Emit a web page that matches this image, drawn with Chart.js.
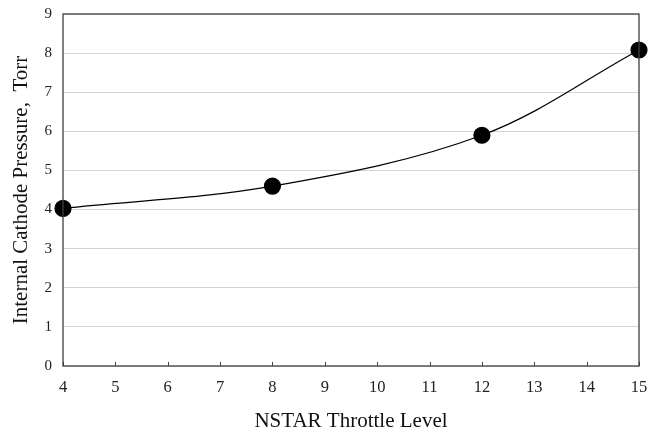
<!DOCTYPE html>
<html>
<head>
<meta charset="utf-8">
<script src="https://cdn.jsdelivr.net/npm/chart.js@4/dist/chart.umd.min.js"></script>
<style>
  html, body { margin: 0; padding: 0; background: #fff; }
  #wrap { width: 651px; height: 438px; }
</style>
</head>
<body>
<div id="wrap"><canvas id="chart" width="651" height="438"></canvas></div>
<script>
// data
const throttleLevels = [4, 8, 12, 15];
const cathodePressure = [4.03, 4.6, 5.9, 8.08];
const xTicks = [4, 5, 6, 7, 8, 9, 10, 11, 12, 13, 14, 15];
const yTicks = [0, 1, 2, 3, 4, 5, 6, 7, 8, 9];

const serif = "'Liberation Serif', 'Times New Roman', serif";

// frame round the plot + small inward ticks on the x axis
const framePlugin = {
  id: 'frame',
  afterDatasetsDraw(c) {
    const { ctx, chartArea: a, scales } = c;
    ctx.save();
    ctx.strokeStyle = '#404040';
    ctx.lineWidth = 1.3;
    ctx.strokeRect(a.left, a.top, a.right - a.left, a.bottom - a.top);
    ctx.beginPath();
    xTicks.forEach((t) => {
      const x = Math.round(scales.x.getPixelForValue(t)) + 0.5;
      ctx.moveTo(x, a.bottom);
      ctx.lineTo(x, a.bottom - 4);
    });
    ctx.lineWidth = 1;
    ctx.stroke();
    ctx.restore();
  },
};

const chart = document.getElementById('chart').getContext('2d');

new Chart(chart, {
  type: 'line',
  data: {
    datasets: [
      {
        data: throttleLevels.map((x, i) => ({ x: x, y: cathodePressure[i] })),
        borderColor: '#000',
        borderWidth: 1.2,
        backgroundColor: '#000',
        pointRadius: 8,
        pointHoverRadius: 8,
        tension: 0.35,
        fill: false,
        clip: false,
      },
    ],
  },
  options: {
    responsive: false,
    animation: false,
    layout: { padding: { left: 5, right: 12, top: 14, bottom: 0 } },
    plugins: { legend: { display: false }, tooltip: { enabled: false } },
    scales: {
      x: {
        type: 'linear',
        min: 4,
        max: 15,
        afterBuildTicks: (s) => { s.ticks = xTicks.map((v) => ({ value: v })); },
        afterFit: (s) => { s.height = 72; s.paddingLeft = 0; s.paddingRight = 0; },
        grid: { display: false, drawTicks: false },
        border: { display: false },
        ticks: { color: '#222', font: { family: serif, size: 16.5 }, padding: 12 },
        title: {
          display: true,
          text: 'NSTAR Throttle Level',
          color: '#111',
          font: { family: serif, size: 21 },
          padding: { top: 13 },
        },
      },
      y: {
        min: 0,
        max: 9,
        afterBuildTicks: (s) => { s.ticks = yTicks.map((v) => ({ value: v })); },
        afterFit: (s) => { s.width = 58; s.paddingTop = 0; s.paddingBottom = 0; },
        grid: { color: '#d4d4d4', lineWidth: 1, drawTicks: false },
        border: { display: false },
        ticks: { color: '#222', font: { family: serif, size: 15 }, padding: 11 },
        title: {
          display: true,
          text: 'Internal Cathode Pressure,  Torr',
          color: '#111',
          font: { family: serif, size: 21 },
          padding: { bottom: 4 },
        },
      },
    },
  },
  plugins: [framePlugin],
});
</script>
</body>
</html>
